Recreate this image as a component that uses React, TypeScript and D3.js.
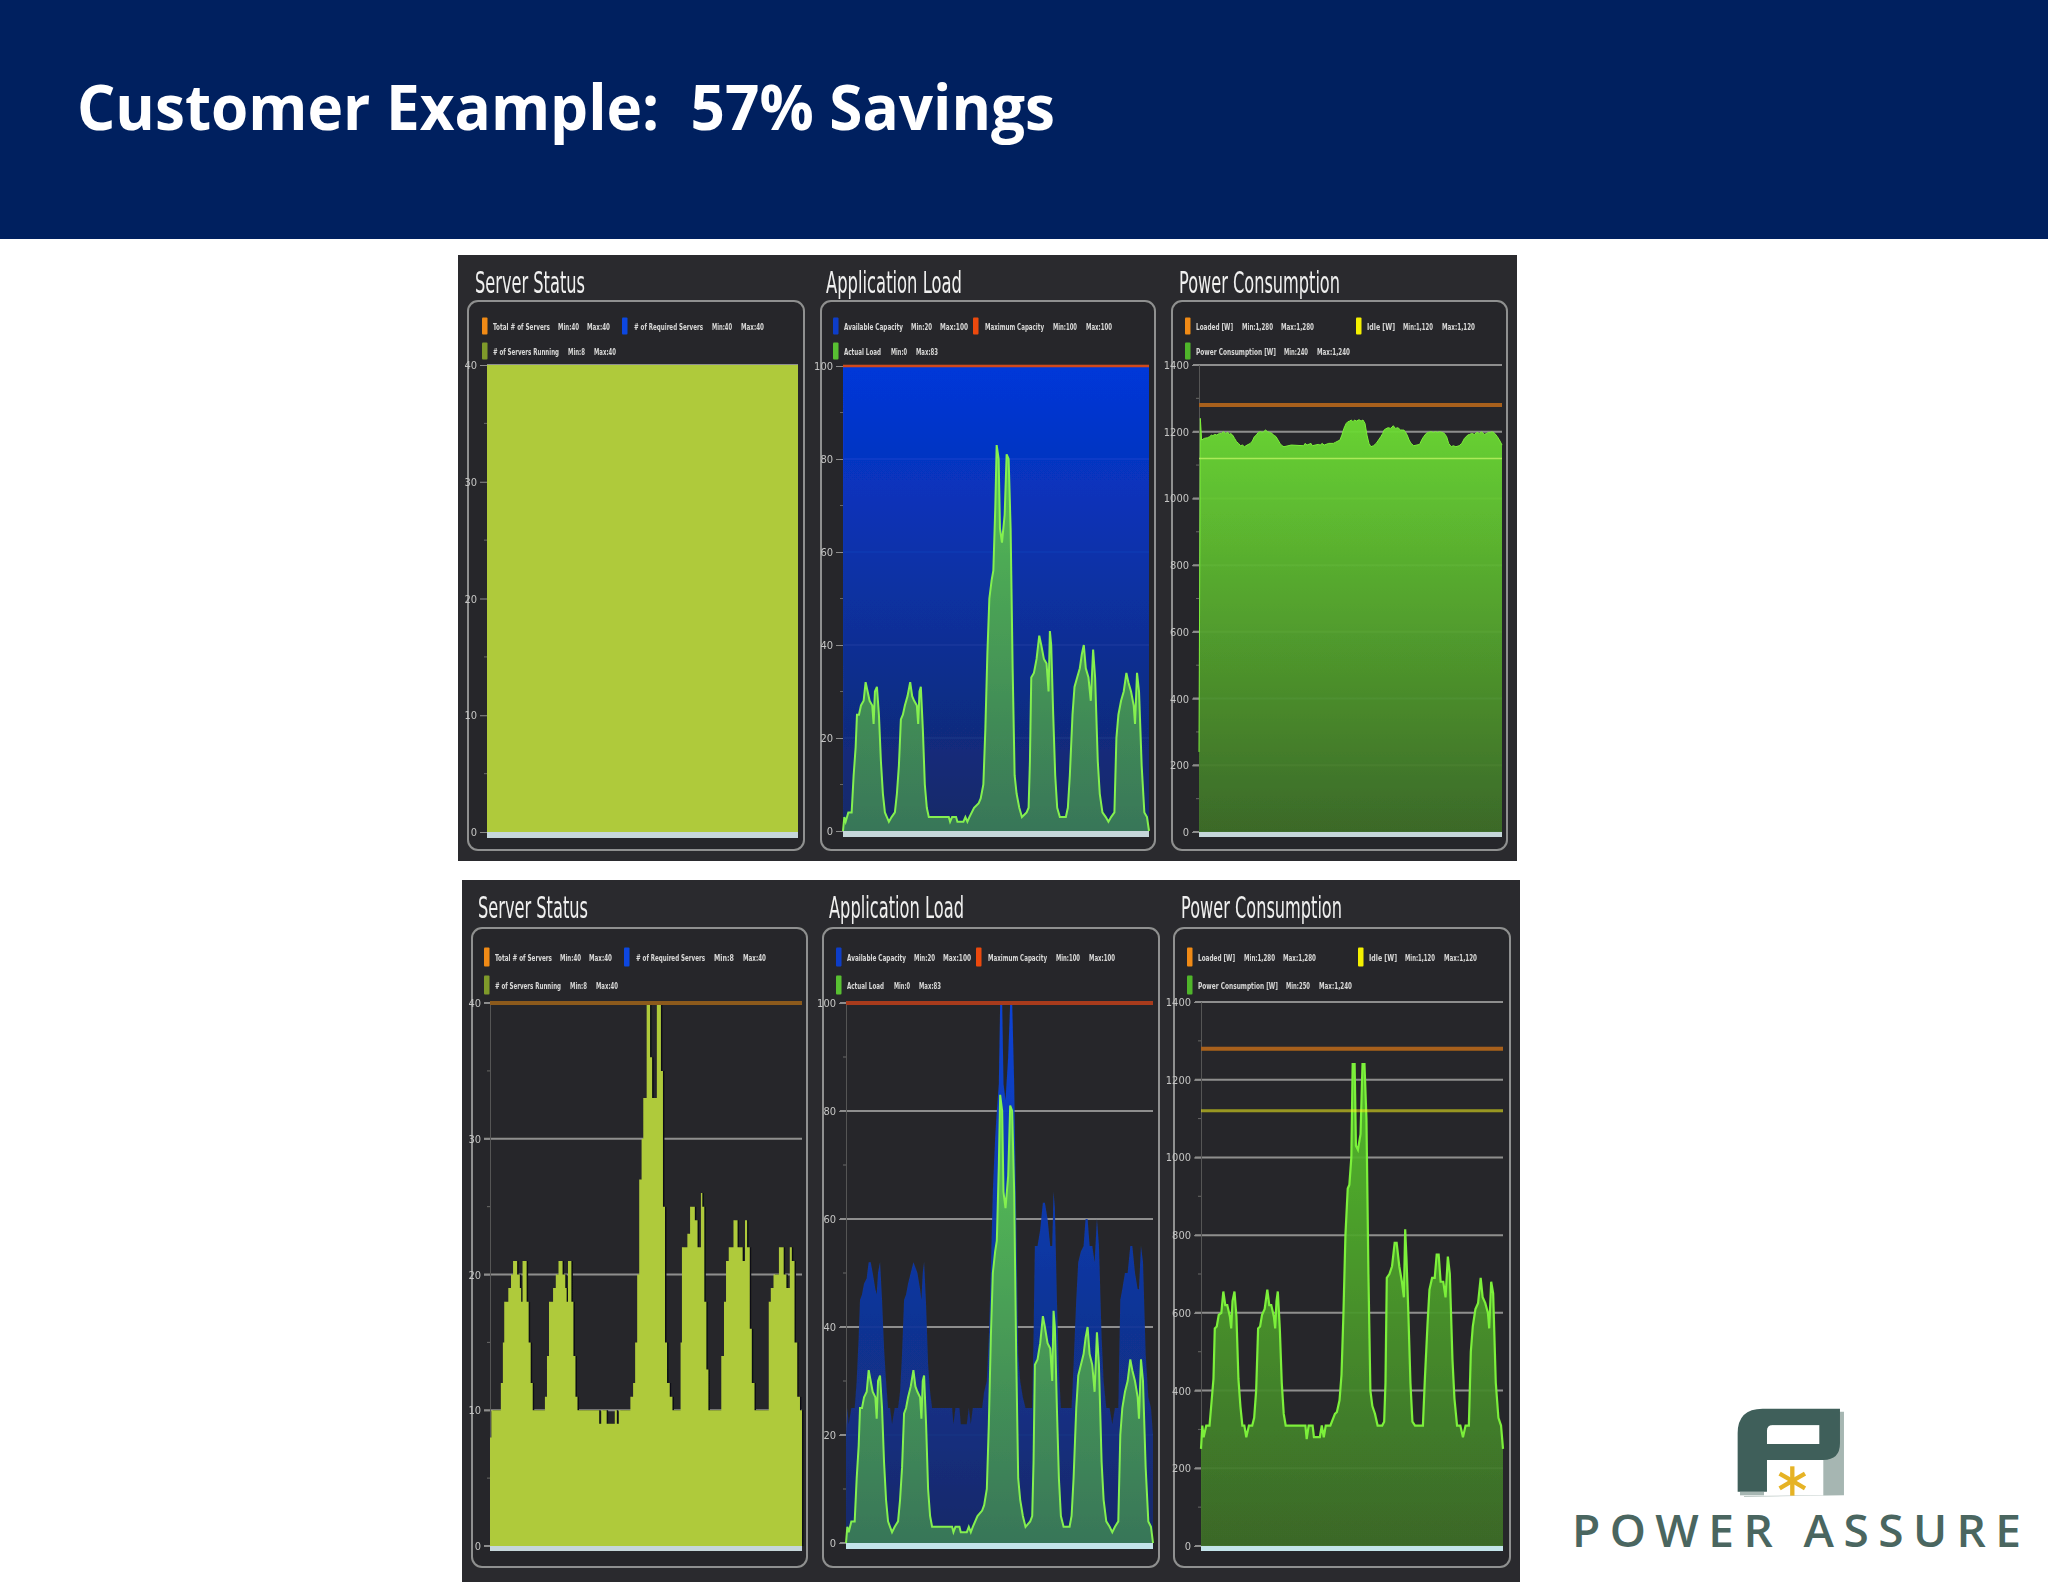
import React, { useEffect, useRef } from 'react';
import * as d3 from 'd3';

// shared time base of the load charts
const sampleTimes = [
  0, 4, 8, 16, 26, 32, 38, 42, 48, 54,
  62, 68, 74, 80, 88, 92, 96, 102, 108, 114,
  120, 126, 132, 138, 146, 156, 162, 168, 174, 180,
  186, 194, 202, 208, 214, 222, 226, 230, 234, 240,
  246, 252, 258, 280, 318, 322, 328, 340, 344, 362,
  368, 374, 380, 394, 408, 414, 422, 428, 434, 440,
  447, 452, 458, 462, 468, 472, 478, 486, 492, 498,
  504, 510, 516, 522, 530, 538, 552, 558, 562, 566,
  574, 582, 590, 596, 604, 612, 618, 622, 626, 632,
  638, 644, 652, 670, 676, 682, 690, 696, 704, 712,
  718, 724, 730, 738, 745, 752, 758, 766, 772, 780,
  790, 798, 806, 816, 822, 828, 836, 844, 852, 858,
  866, 874, 878, 884, 890, 898, 906, 914, 920,
];

const serversRunning = [
  8, 10, 10, 10, 10, 12, 15, 18, 18, 19,
  20, 21, 21, 20, 19, 18, 21, 21, 18, 15,
  12, 10, 10, 10, 10, 10, 11, 14, 18, 18,
  19, 20, 21, 21, 20, 19, 18, 21, 21, 18,
  14, 11, 10, 10, 10, 9, 10, 10, 9, 9,
  10, 9, 10, 10, 10, 11, 12, 15, 20, 27,
  30, 33, 33, 40, 40, 36, 33, 33, 40, 40,
  35, 25, 15, 12, 11, 10, 10, 10, 15, 22,
  22, 23, 25, 25, 24, 22, 22, 26, 25, 18,
  13, 10, 10, 10, 10, 14, 18, 21, 22, 22,
  24, 24, 22, 22, 21, 24, 22, 16, 12, 10,
  10, 10, 10, 10, 18, 19, 20, 20, 22, 22,
  20, 19, 19, 22, 21, 15, 11, 10, 8,
];

const availableCapacity = [
  20, 25, 22, 25, 25, 30, 38, 45, 46, 48,
  49, 52, 52, 50, 47, 46, 50, 52, 45, 36,
  30, 25, 25, 22, 25, 25, 28, 35, 45, 46,
  48, 50, 52, 51, 50, 47, 45, 50, 52, 44,
  33, 28, 25, 25, 25, 22, 25, 25, 22, 22,
  25, 22, 25, 25, 25, 28, 30, 38, 50, 65,
  75, 80, 85, 100, 100, 85, 82, 90, 100, 100,
  85, 60, 35, 30, 27, 25, 25, 25, 38, 55,
  55, 58, 63, 63, 60, 55, 55, 65, 62, 45,
  32, 25, 25, 25, 25, 33, 45, 52, 54, 55,
  60, 60, 55, 55, 52, 60, 55, 38, 30, 25,
  25, 22, 25, 25, 45, 47, 50, 50, 55, 55,
  50, 47, 47, 55, 52, 35, 27, 25, 20,
];

const actualLoad = [
  0, 3, 2, 4, 4, 12, 18, 25, 25, 27,
  28, 32, 30, 28, 27, 23, 30, 31, 25, 15,
  8, 4, 3, 2, 3, 4, 8, 14, 24, 25,
  27, 29, 32, 29, 28, 27, 23, 30, 31, 22,
  10, 5, 3, 3, 3, 2, 3, 3, 2, 2,
  3, 2, 3, 5, 6, 7, 10, 22, 38, 50,
  54, 56, 70, 83, 80, 65, 62, 68, 81, 80,
  65, 35, 12, 8, 5, 3, 4, 5, 15, 33,
  34, 37, 42, 40, 37, 36, 30, 43, 40, 25,
  12, 5, 3, 3, 5, 12, 25, 31, 33, 35,
  38, 40, 35, 33, 28, 39, 33, 15, 8, 4,
  3, 2, 3, 4, 20, 25, 28, 30, 34, 32,
  30, 27, 23, 34, 30, 14, 4, 3, 0,
];

const powerAfter = [
  250, 310, 280, 310, 310, 370, 430, 560, 565, 595,
  600, 655, 620, 620, 590, 560, 630, 655, 590, 430,
  360, 310, 310, 280, 310, 310, 330, 400, 560, 565,
  595, 610, 660, 620, 620, 590, 560, 630, 655, 560,
  420, 340, 310, 310, 310, 275, 310, 310, 280, 280,
  310, 280, 310, 310, 340, 345, 375, 440, 600, 800,
  920, 930, 1000, 1240, 1240, 1030, 1020, 1060, 1240, 1240,
  1100, 700, 400, 360, 340, 310, 310, 320, 420, 690,
  700, 720, 780, 780, 720, 680, 640, 815, 740, 590,
  420, 320, 310, 310, 310, 430, 570, 660, 690, 690,
  750, 750, 680, 680, 640, 745, 700, 480, 380, 310,
  310, 280, 310, 310, 500, 565, 610, 625, 690, 640,
  625, 600, 560, 680, 650, 420, 330, 310, 250,
];

const powerBefore = [
  240, 1240, 1175, 1180, 1182, 1185, 1190, 1188, 1192, 1190,
  1195, 1195, 1200, 1195, 1198, 1192, 1195, 1190, 1180, 1170,
  1165, 1158, 1160, 1155, 1160, 1165, 1172, 1185, 1190, 1198,
  1200, 1198, 1205, 1200, 1198, 1195, 1190, 1188, 1185, 1175,
  1165, 1158, 1155, 1160, 1158, 1165, 1160, 1165, 1158, 1162,
  1160, 1165, 1160, 1165, 1165, 1168, 1172, 1175, 1190, 1210,
  1225, 1230, 1232, 1235, 1230, 1235, 1232, 1236, 1232, 1235,
  1225, 1190, 1165, 1155, 1158, 1165, 1185, 1195, 1205, 1208,
  1212, 1210, 1218, 1210, 1212, 1205, 1205, 1205, 1200, 1190,
  1175, 1165, 1158, 1162, 1175, 1185, 1195, 1198, 1200, 1198,
  1200, 1198, 1200, 1198, 1195, 1185, 1165, 1155, 1158, 1155,
  1158, 1165, 1180, 1190, 1192, 1195, 1192, 1198, 1195, 1200,
  1192, 1195, 1198, 1198, 1200, 1195, 1185, 1172, 1160,
];

// the "before" server and capacity charts sit flat at their maximum
const flatTimes = [0, 920];
const serversBefore = [40, 40];
const capacityBefore = [100, 100];

const serverTicks = [0, 10, 20, 30, 40];
const loadTicks = [0, 20, 40, 60, 80, 100];
const powerTicks = [0, 200, 400, 600, 800, 1000, 1200, 1400];

const TOTAL_SERVERS = 40;
const MAX_CAPACITY = 100;
const LOADED_W = 1280;
const IDLE_W = 1120;

const legendNames = {
  server: ['Total # of Servers', '# of Required Servers', '# of Servers Running'],
  load: ['Available Capacity', 'Maximum Capacity', 'Actual Load'],
  power: ['Loaded [W]', 'Idle [W]', 'Power Consumption [W]'],
};
const legendColors = {
  server: ['#f08a12', '#0a46e0', '#7f9a2c'],
  load: ['#0c3cc8', '#ec4a0c', '#58c030'],
  power: ['#f08a12', '#f4f000', '#4fb52c'],
};
const legendBefore = {
  server: [['Min:40', 'Max:40'], ['Min:40', 'Max:40'], ['Min:8', 'Max:40']],
  load: [['Min:20', 'Max:100'], ['Min:100', 'Max:100'], ['Min:0', 'Max:83']],
  power: [['Min:1,280', 'Max:1,280'], ['Min:1,120', 'Max:1,120'], ['Min:240', 'Max:1,240']],
};
const legendAfter = {
  server: [['Min:40', 'Max:40'], ['Min:8', 'Max:40'], ['Min:8', 'Max:40']],
  load: [['Min:20', 'Max:100'], ['Min:100', 'Max:100'], ['Min:0', 'Max:83']],
  power: [['Min:1,280', 'Max:1,280'], ['Min:1,120', 'Max:1,120'], ['Min:250', 'Max:1,240']],
};

// legend layout relative to the panel's first swatch: swatch x, row, then [x, width] of the 3 texts
const legendLayout = {
  server: [
    { sw: 0, row: 0, t: [[11, 57], [76, 21], [105, 23]] },
    { sw: 140, row: 0, t: [[152, 69], [230, 20], [259, 23]] },
    { sw: 0, row: 1, t: [[11, 66], [86, 17], [112, 22]] },
  ],
  load: [
    { sw: 0, row: 0, t: [[11, 59], [78, 21], [107, 28]] },
    { sw: 140, row: 0, t: [[152, 59], [220, 24], [253, 26]] },
    { sw: 0, row: 1, t: [[11, 37], [58, 16], [83, 22]] },
  ],
  power: [
    { sw: 0, row: 0, t: [[11, 37], [57, 31], [96, 33]] },
    { sw: 171, row: 0, t: [[182, 28], [218, 30], [257, 33]] },
    { sw: 0, row: 1, t: [[11, 80], [99, 24], [132, 33]] },
  ],
};

const sans = '"DejaVu Sans", sans-serif';
const narrow = '"Liberation Sans Narrow", "DejaVu Sans Condensed", sans-serif';

function Axis({ scale, ticks, left, size }: any) {
  const ref = useRef<SVGGElement>(null);
  useEffect(() => {
    const g = d3.select(ref.current);
    g.call(d3.axisLeft(scale).tickValues(ticks).tickFormat(d3.format('d')).tickSize(size).tickPadding(3) as any);
    g.select('.domain').attr('stroke', '#555').attr('stroke-width', 1);
    g.selectAll('.tick line').attr('stroke', '#8c8c8c');
    g.selectAll('.tick text')
      .attr('fill', '#c4c4c4')
      .style('font-size', '11px')
      .style('font-family', narrow);
  }, [scale, ticks, size]);
  return <g ref={ref} transform={`translate(${left},0)`} />;
}

function Title({ x, y, width, text }: any) {
  return (
    <text x={x} y={y} fill="#f0f0f0" fontFamily={sans} fontSize={31} textLength={width} lengthAdjust="spacingAndGlyphs">
      {text}
    </text>
  );
}

function Legend({ kind, x, rows, values, swatchH = 17 }: any) {
  const names = (legendNames as any)[kind];
  const colors = (legendColors as any)[kind];
  return (
    <g>
      {(legendLayout as any)[kind].map((item: any, i: number) => {
        const y = rows[item.row];
        const texts = [names[i], values[kind][i][0], values[kind][i][1]];
        return (
          <g key={i}>
            <rect x={x + item.sw} y={y - swatchH / 2} width={5.5} height={swatchH} rx={1} fill={colors[i]} />
            {texts.map((t: string, j: number) => (
              <text
                key={j}
                x={x + item.t[j][0]}
                y={y + 3.5}
                fill="#d8d8d8"
                fontFamily={narrow}
                fontWeight={700}
                fontSize={8.8}
                textLength={item.t[j][1]}
                lengthAdjust="spacingAndGlyphs"
              >
                {t}
              </text>
            ))}
          </g>
        );
      })}
    </g>
  );
}

function Chart({ id, box, plot, max, ticks, tickSize = 7, gridFrom, gridColor = '#8e8e8e', stripColor = '#c6d6da', layers }: any) {
  const xScale = d3.scaleLinear().domain([0, 920]).range([plot.left, plot.right]);
  const yScale = d3.scaleLinear().domain([0, max]).range([plot.bottom, plot.top]);
  const minor = ticks.slice(1).map((t: number, i: number) => (t + ticks[i]) / 2);

  return (
    <g>
      <rect
        x={box.x0}
        y={box.y0}
        width={box.x1 - box.x0}
        height={box.y1 - box.y0}
        rx={10}
        fill="#28282a"
        stroke="#8f9090"
        strokeWidth={2}
      />
      {minor.map((m: number) => (
        <line key={m} x1={plot.left - 3} x2={plot.left} y1={yScale(m)} y2={yScale(m)} stroke="#666" />
      ))}
      {ticks.map((t: number) => (
        <line
          key={t}
          x1={gridFrom ?? plot.left}
          x2={plot.right}
          y1={yScale(t)}
          y2={yScale(t)}
          stroke={gridColor}
          strokeWidth={2}
        />
      ))}
      <Axis scale={yScale} ticks={ticks} left={plot.left} size={tickSize} />
      {layers.map((l: any, i: number) => {
        if (l.kind === 'hline') {
          return (
            <line
              key={i}
              x1={plot.left}
              x2={plot.right}
              y1={yScale(l.value)}
              y2={yScale(l.value)}
              stroke={l.color}
              strokeWidth={l.width}
              opacity={l.opacity ?? 1}
            />
          );
        }
        const pts: [number, number][] = l.times.map((t: number, k: number) => [t, l.values[k]]);
        const curve = l.step ? d3.curveStepAfter : d3.curveLinear;
        const area = d3
          .area<[number, number]>()
          .x(d => xScale(d[0]))
          .y0(yScale(0))
          .y1(d => yScale(d[1]))
          .curve(curve);
        const line = d3
          .line<[number, number]>()
          .x(d => xScale(d[0]))
          .y(d => yScale(d[1]))
          .curve(curve);
        const gid = `${id}-fill-${i}`;
        return (
          <g key={i} transform={l.shift ? `translate(${l.shift},0)` : undefined}>
            <defs>
              <linearGradient id={gid} gradientUnits="userSpaceOnUse" x1={0} x2={0} y1={yScale(max)} y2={yScale(0)}>
                <stop offset="0%" stopColor={l.colors[0]} />
                <stop offset="100%" stopColor={l.colors[1]} />
              </linearGradient>
            </defs>
            <path d={area(pts) ?? ''} fill={`url(#${gid})`} fillOpacity={l.opacity ?? 1} />
            {l.stroke && <path d={line(pts) ?? ''} fill="none" stroke={l.stroke} strokeWidth={l.strokeWidth ?? 2} />}
          </g>
        );
      })}
      <rect x={plot.left} y={yScale(0)} width={plot.right - plot.left} height={plot.strip} fill={stripColor} />
    </g>
  );
}

function BeforeGroup() {
  return (
    <g filter="url(#soft)">
      <rect x={458} y={255} width={1059} height={606} fill="#2c2c2e" />
      <Title x={475} y={293} width={110} text="Server Status" />
      <Title x={826} y={293} width={136} text="Application Load" />
      <Title x={1179} y={293} width={161} text="Power Consumption" />
      <Chart
        id="b-srv"
        box={{ x0: 468, x1: 804, y0: 301, y1: 850 }}
        plot={{ left: 487, right: 798, top: 365, bottom: 832, strip: 6 }}
        max={40}
        ticks={serverTicks}
        layers={[{ times: flatTimes, values: serversBefore, colors: ['#afca3b', '#afca3b'] }]}
      />
      <Chart
        id="b-load"
        box={{ x0: 821, x1: 1155, y0: 301, y1: 850 }}
        plot={{ left: 843, right: 1149, top: 366, bottom: 831, strip: 6 }}
        max={100}
        ticks={loadTicks}
        layers={[
          { times: flatTimes, values: capacityBefore, colors: ['#0038e4', '#14296a'], opacity: 0.94 },
          { kind: 'hline', value: MAX_CAPACITY, color: '#d0481c', width: 2.5 },
          { times: sampleTimes, values: actualLoad, colors: ['#62d84a', '#3a7a58'], opacity: 0.95, stroke: '#84f050' },
        ]}
      />
      <Chart
        id="b-power"
        box={{ x0: 1172, x1: 1507, y0: 301, y1: 850 }}
        plot={{ left: 1199, right: 1502, top: 365, bottom: 832, strip: 5 }}
        max={1400}
        ticks={powerTicks}
        gridFrom={1193}
        layers={[
          { kind: 'hline', value: LOADED_W, color: '#a8601c', width: 4 },
          { times: sampleTimes, values: powerBefore, colors: ['#72ea34', '#3c6c28'], opacity: 0.95, stroke: '#7cf03a', strokeWidth: 1 },
          { kind: 'hline', value: IDLE_W, color: '#b8f060', width: 1.5, opacity: 0.85 },
        ]}
      />
      <Legend kind="server" x={482} rows={[326, 351]} values={legendBefore} />
      <Legend kind="load" x={833} rows={[326, 351]} values={legendBefore} />
      <Legend kind="power" x={1185} rows={[326, 351]} values={legendBefore} />
    </g>
  );
}

function AfterGroup() {
  return (
    <g filter="url(#soft)">
      <rect x={462} y={880} width={1058} height={702} fill="#2c2c2e" />
      <Title x={478} y={918} width={110} text="Server Status" />
      <Title x={829} y={918} width={135} text="Application Load" />
      <Title x={1181} y={918} width={161} text="Power Consumption" />
      <Chart
        id="a-srv"
        box={{ x0: 472, x1: 807, y0: 928, y1: 1567 }}
        plot={{ left: 490, right: 802, top: 1003, bottom: 1546, strip: 5 }}
        max={40}
        ticks={serverTicks}
        tickSize={6}
        gridFrom={484}
        layers={[
          { times: sampleTimes, values: serversRunning, step: true, shift: 1.5, colors: ['#0b0f14', '#0b0f14'] },
          { times: sampleTimes, values: serversRunning, step: true, colors: ['#afca3b', '#afca3b'] },
          { kind: 'hline', value: TOTAL_SERVERS, color: '#8c5a1a', width: 4 },
        ]}
      />
      <Chart
        id="a-load"
        box={{ x0: 823, x1: 1159, y0: 928, y1: 1567 }}
        plot={{ left: 846, right: 1153, top: 1003, bottom: 1543, strip: 6 }}
        max={100}
        ticks={loadTicks}
        gridFrom={840}
        stripColor="#c4e4ea"
        layers={[
          { times: sampleTimes, values: availableCapacity, colors: ['#0a44dc', '#14296a'], opacity: 0.96 },
          { kind: 'hline', value: MAX_CAPACITY, color: '#a83a1c', width: 4 },
          { times: sampleTimes, values: actualLoad, colors: ['#64dc4c', '#3a7a58'], opacity: 0.95, stroke: '#84f050' },
        ]}
      />
      <Chart
        id="a-power"
        box={{ x0: 1174, x1: 1510, y0: 928, y1: 1567 }}
        plot={{ left: 1201, right: 1503, top: 1002, bottom: 1546, strip: 5 }}
        max={1400}
        ticks={powerTicks}
        gridFrom={1195}
        stripColor="#c4e4ea"
        layers={[
          { kind: 'hline', value: LOADED_W, color: '#a8601c', width: 4 },
          { times: sampleTimes, values: powerAfter, colors: ['#5ad02c', '#3c6c28'], opacity: 0.93, stroke: '#7cf03a', strokeWidth: 2.2 },
          { kind: 'hline', value: IDLE_W, color: '#f6f21c', width: 3, opacity: 0.55 },
        ]}
      />
      <Legend kind="server" x={484} rows={[957, 985]} values={legendAfter} swatchH={19} />
      <Legend kind="load" x={836} rows={[957, 985]} values={legendAfter} swatchH={19} />
      <Legend kind="power" x={1187} rows={[957, 985]} values={legendAfter} swatchH={19} />
    </g>
  );
}

function Logo() {
  const spokes = [0, 60, 120, 180, 240, 300];
  return (
    <g>
      <g transform="translate(1540,1380) scale(0.3333)">
        <path d="M612,348 L612,350 L912,346 L912,95 L850,95 L850,346 Z" fill="#a6b6b2" />
        <path d="M600,336 L600,346 L672,346 L672,336 Z" fill="#a6b6b2" />
        <path d="M668,196 L668,150 Q668,128 695,128 L842,128 L842,136 L695,136 Q680,136 680,152 L680,196 Z" fill="#a6b6b2" />
        <path
          d="M593,335 L593,160 Q593,86 668,86 L900,86 L900,190 Q900,240 850,240 L681,240 L681,335 Z M681,192 L838,192 L838,135 L698,135 Q681,135 681,152 Z"
          fill="#3f5f5a"
          fillRule="evenodd"
        />
        {spokes.map(a => (
          <line key={a} x1={757} y1={303} x2={757} y2={259} stroke="#e6b325" strokeWidth={13} transform={`rotate(${a} 757 303)`} />
        ))}
      </g>
      <text
        x={1572}
        y={1547}
        fill="#4a6660"
        fontFamily='"Open Sans", sans-serif'
        fontWeight={600}
        fontSize={46}
        textLength={449}
        lengthAdjust="spacing"
      >
        POWER ASSURE
      </text>
    </g>
  );
}

export default function App() {
  return (
    <svg width={2048} height={1582} viewBox="0 0 2048 1582" style={{ position: 'absolute', left: 0, top: 0, display: 'block' }}>
      <defs>
        <filter id="soft" filterUnits="userSpaceOnUse" x={440} y={240} width={1100} height={1342}>
          <feGaussianBlur stdDeviation={0.7} />
        </filter>
      </defs>
      <rect width={2048} height={1582} fill="#ffffff" />
      <rect width={2048} height={239} fill="#00205f" />
      <text
        x={77}
        y={130}
        fill="#ffffff"
        fontFamily='"Open Sans", sans-serif'
        fontWeight={700}
        fontSize={63}
        textLength={978}
        lengthAdjust="spacingAndGlyphs"
        style={{ whiteSpace: 'pre' }}
      >
        {'Customer Example:  57% Savings'}
      </text>
      <BeforeGroup />
      <AfterGroup />
      <Logo />
    </svg>
  );
}
